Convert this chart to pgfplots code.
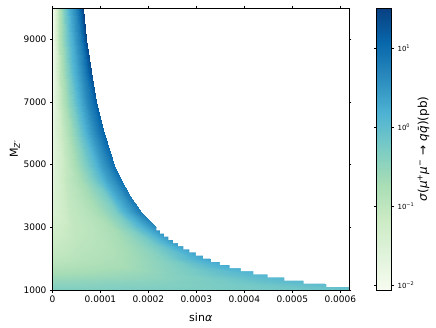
\documentclass[border=0pt]{standalone}
\usepackage{fontspec}
\setmainfont{DejaVu Sans}
\usepackage{pgfplots}
\pgfplotsset{compat=1.18}

% matplotlib GnBu
\pgfplotsset{colormap={gnbu}{rgb255=(247,252,240) rgb255=(224,243,219) rgb255=(204,235,197)
  rgb255=(168,221,181) rgb255=(123,204,196) rgb255=(78,179,211) rgb255=(43,140,190)
  rgb255=(8,104,172) rgb255=(8,64,129)}}

% log10 of sigma, rows of fixed M_Z', x up to the allowed edge
\pgfplotstableread{
x y c
0 1000 -0.30
1.396e-4 1000 -0.30
2.791e-4 1000 -0.28
3.838e-4 1000 -0.25
4.885e-4 1000 -0.20
5.582e-4 1000 -0.15
6.280e-4 1000 -0.10
6.769e-4 1000 -0.08
6.978e-4 1000 -0.05
0 1250 -0.50
1.092e-4 1250 -0.45
2.184e-4 1250 -0.40
3.004e-4 1250 -0.30
3.823e-4 1250 -0.20
4.369e-4 1250 -0.10
4.915e-4 1250 0.00
5.297e-4 1250 0.05
5.461e-4 1250 0.05
0 1500 -0.70
0.897e-4 1500 -0.65
1.794e-4 1500 -0.55
2.467e-4 1500 -0.40
3.140e-4 1500 -0.20
3.589e-4 1500 -0.05
4.037e-4 1500 0.05
4.351e-4 1500 0.12
4.486e-4 1500 0.15
0 1750 -0.85
0.761e-4 1750 -0.78
1.522e-4 1750 -0.70
2.093e-4 1750 -0.50
2.664e-4 1750 -0.30
3.045e-4 1750 -0.10
3.425e-4 1750 0.10
3.692e-4 1750 0.20
3.806e-4 1750 0.25
0 2000 -1.00
0.661e-4 2000 -0.88
1.322e-4 2000 -0.78
1.818e-4 2000 -0.60
2.314e-4 2000 -0.35
2.644e-4 2000 -0.10
2.975e-4 2000 0.15
3.206e-4 2000 0.30
3.305e-4 2000 0.35
0 2500 -1.15
0.523e-4 2500 -0.98
1.047e-4 2500 -0.88
1.439e-4 2500 -0.70
1.832e-4 2500 -0.45
2.094e-4 2500 -0.20
2.355e-4 2500 0.15
2.538e-4 2500 0.40
2.617e-4 2500 0.50
0 3000 -1.30
0.433e-4 3000 -1.05
0.866e-4 3000 -0.92
1.191e-4 3000 -0.75
1.516e-4 3000 -0.40
1.733e-4 3000 -0.05
1.949e-4 3000 0.30
2.101e-4 3000 0.55
2.166e-4 3000 0.65
0 3500 -1.45
0.369e-4 3500 -1.05
0.739e-4 3500 -0.88
1.016e-4 3500 -0.65
1.293e-4 3500 -0.30
1.478e-4 3500 0.10
1.662e-4 3500 0.45
1.792e-4 3500 0.70
1.847e-4 3500 0.80
0 4000 -1.50
0.322e-4 4000 -1.05
0.644e-4 4000 -0.82
0.886e-4 4000 -0.55
1.127e-4 4000 -0.20
1.288e-4 4000 0.20
1.449e-4 4000 0.50
1.562e-4 4000 0.75
1.610e-4 4000 0.85
0 4500 -1.55
0.285e-4 4500 -1.05
0.571e-4 4500 -0.72
0.785e-4 4500 -0.40
0.999e-4 4500 0.00
1.142e-4 4500 0.35
1.284e-4 4500 0.60
1.384e-4 4500 0.85
1.427e-4 4500 0.95
0 5000 -1.60
0.256e-4 5000 -1.10
0.513e-4 5000 -0.65
0.705e-4 5000 -0.28
0.897e-4 5000 0.15
1.026e-4 5000 0.45
1.154e-4 5000 0.70
1.244e-4 5000 0.90
1.282e-4 5000 1.00
0 6000 -1.65
0.213e-4 6000 -1.05
0.426e-4 6000 -0.55
0.585e-4 6000 -0.10
0.745e-4 6000 0.30
0.851e-4 6000 0.55
0.958e-4 6000 0.80
1.032e-4 6000 1.00
1.064e-4 6000 1.10
0 7000 -1.75
0.182e-4 7000 -1.00
0.364e-4 7000 -0.40
0.501e-4 7000 0.05
0.637e-4 7000 0.40
0.728e-4 7000 0.65
0.819e-4 7000 0.90
0.883e-4 7000 1.10
0.910e-4 7000 1.20
0 8000 -1.85
0.159e-4 8000 -0.95
0.318e-4 8000 -0.30
0.437e-4 8000 0.10
0.556e-4 8000 0.45
0.636e-4 8000 0.70
0.715e-4 8000 1.00
0.771e-4 8000 1.20
0.795e-4 8000 1.35
0 9000 -1.90
0.141e-4 9000 -0.90
0.282e-4 9000 -0.25
0.388e-4 9000 0.15
0.494e-4 9000 0.50
0.564e-4 9000 0.75
0.635e-4 9000 1.05
0.684e-4 9000 1.30
0.706e-4 9000 1.45
0 10000 -1.95
0.127e-4 10000 -0.90
0.254e-4 10000 -0.20
0.349e-4 10000 0.20
0.444e-4 10000 0.55
0.507e-4 10000 0.80
0.571e-4 10000 1.10
0.615e-4 10000 1.35
0.634e-4 10000 1.50
}\sigmatab

\begin{document}
\begin{tikzpicture}
\begin{axis}[
  at={(0pt,0pt)}, anchor=south west,
  width=296.5pt, height=282pt, scale only axis,
  xmin=0, xmax=0.000618, ymin=1000, ymax=10000,
  xtick={0,0.0001,0.0002,0.0003,0.0004,0.0005,0.0006},
  xticklabels={0,0.0001,0.0002,0.0003,0.0004,0.0005,0.0006},
  ytick={1000,3000,5000,7000,9000},
  yticklabels={1000,3000,5000,7000,9000},
  scaled x ticks=false, scaled y ticks=false,
  tick align=outside, major tick length=2.5pt,
  tick style={line width=0.55pt,black},
  tick label style={font=\fontsize{9}{10}\selectfont},
  xlabel={sin\textit{α}}, ylabel={M\textsubscript{\textit{Z′}}},
  label style={font=\fontsize{11}{12}\selectfont},
  xlabel style={at={(axis description cs:0.5,-0.098)}, anchor=center},
  ylabel style={at={(axis description cs:-0.127,0.5)}, anchor=center},
  axis on top,
  axis line style={line width=0.55pt},
  colormap name=gnbu,
  point meta min=-2.065, point meta max=1.505,
  colorbar,
  colorbar style={
    at={(parent axis.north east)}, anchor=north west, xshift=19pt,
    width=15pt, height=282pt,
    ytick={-2,-1,0,1},
    yticklabels={10\textsuperscript{−2},10\textsuperscript{−1},10\textsuperscript{0},10\textsuperscript{1}},
    tick align=outside, major tick length=2.5pt,
    tick label style={font=\fontsize{7}{8}\selectfont},
    axis line style={line width=0.55pt},
    ylabel={\textit{σ}(\textit{μ}\textsuperscript{+}\textit{μ}\textsuperscript{−} → \textit{q}\textit{\={q}})(pb)},
    ylabel style={font=\fontsize{12}{13}\selectfont, at={(axis description cs:3.13,0.5)}, anchor=center, rotate=0},
  },
]
\addplot[surf, shader=interp, mesh/cols=9, point meta=explicit]
  table[x=x, y=y, meta=c] {\sigmatab};
% excluded region above the step edge of the scan grid
\addplot[draw=none, fill=white] coordinates {
  (0.00065,1100) (5.709e-4,1100) (5.709e-4,1200) (5.233e-4,1200) (5.233e-4,1300)
  (4.831e-4,1300) (4.831e-4,1400) (4.486e-4,1400) (4.486e-4,1500) (4.187e-4,1500)
  (4.187e-4,1600) (3.925e-4,1600) (3.925e-4,1700) (3.694e-4,1700) (3.694e-4,1800)
  (3.489e-4,1800) (3.489e-4,1900) (3.305e-4,1900) (3.305e-4,2000) (3.140e-4,2000)
  (3.140e-4,2100) (2.990e-4,2100) (2.990e-4,2200) (2.855e-4,2200) (2.855e-4,2300)
  (2.730e-4,2300) (2.730e-4,2400) (2.617e-4,2400) (2.617e-4,2500) (2.512e-4,2500)
  (2.512e-4,2600) (2.415e-4,2600) (2.415e-4,2700) (2.326e-4,2700) (2.326e-4,2800)
  (2.243e-4,2800) (2.243e-4,2900) (2.166e-4,2900) (2.166e-4,3000) (0.00065,3000)
} -- cycle;
\end{axis}
\path (-52.5pt,-37pt) rectangle (383.5pt,290pt);
\end{tikzpicture}
\end{document}
